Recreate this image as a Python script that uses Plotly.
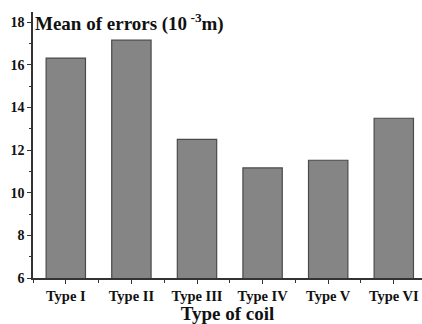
import plotly.graph_objects as go

categories = ["Type I", "Type II", "Type III", "Type IV", "Type V", "Type VI"]
mean_errors = [16.31, 17.15, 12.5, 11.16, 11.52, 13.49]
y_ticks = [6, 8, 10, 12, 14, 16, 18]

x_pos = list(range(len(categories)))
serif = "Liberation Serif"

fig = go.Figure()
fig.add_trace(go.Bar(
    x=x_pos, y=mean_errors, width=0.6,
    marker=dict(color="#858585", line=dict(color="#4a4a4a", width=1.2)),
))

fig.update_layout(
    width=422, height=324,
    margin=dict(l=33, r=0, t=12, b=46),
    plot_bgcolor="white", paper_bgcolor="white",
    showlegend=False,
    font=dict(family=serif, color="#111"),
    xaxis=dict(
        range=[-0.5, 5.43], tickvals=x_pos, ticktext=categories,
        showline=True, linecolor="#333", linewidth=1.5,
        ticks="outside", ticklen=4, tickwidth=1.2, tickcolor="#333",
        tickfont=dict(family=serif, size=14.5, weight="bold", color="#111"),
        minor=dict(ticks="outside", ticklen=3, tick0=0.5, dtick=1, tickcolor="#333"),
        showgrid=False, zeroline=False,
        title=dict(text="Type of coil", font=dict(family=serif, size=19, weight="bold", color="#111"), standoff=0),
    ),
    yaxis=dict(
        range=[6, 18.47], tickvals=y_ticks,
        showline=True, linecolor="#333", linewidth=1.5,
        ticks="outside", ticklen=4, tickwidth=1.2, tickcolor="#333",
        tickfont=dict(family=serif, size=14, weight="bold", color="#111"),
        minor=dict(ticks="outside", ticklen=2, dtick=1, tickcolor="#333"),
        showgrid=False, zeroline=False,
    ),
    bargap=0.4,
)

fig.add_annotation(
    text="Mean of errors (10<sup> -3</sup>m)", xref="paper", yref="y",
    x=0.0, y=18, showarrow=False, xanchor="left", yanchor="middle",
    font=dict(family=serif, size=19, weight="bold", color="#111"),
)

fig.write_html("out.html")
